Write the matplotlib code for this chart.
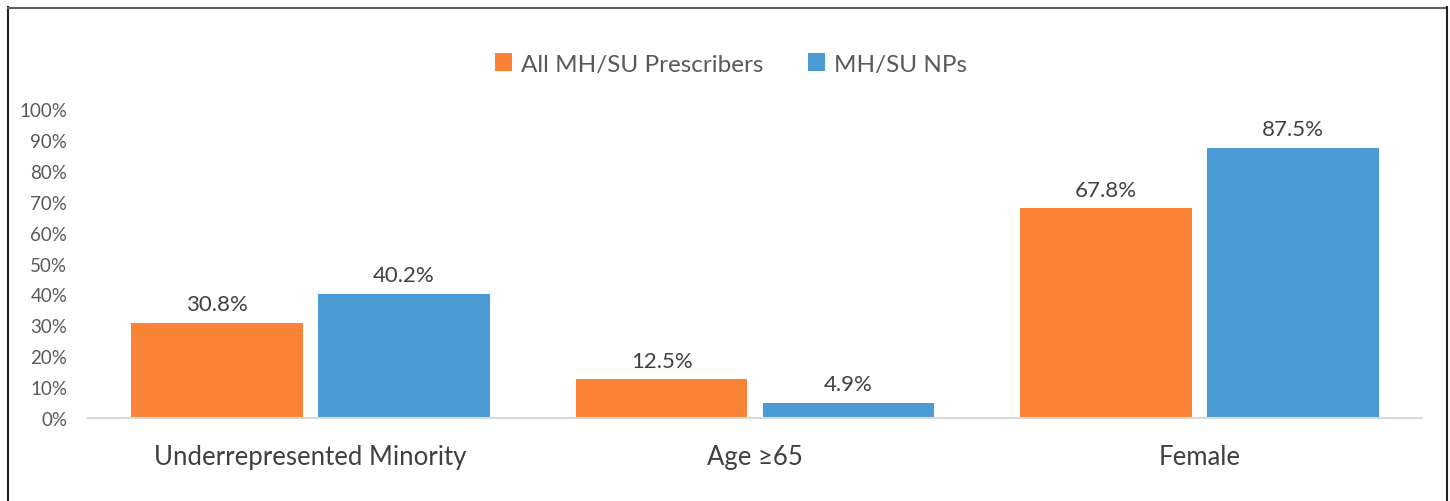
import matplotlib
matplotlib.use('Agg')
import matplotlib.pyplot as plt
from matplotlib.lines import Line2D
import numpy as np

plt.rcParams['font.family'] = ['Lato', 'DejaVu Sans']

categories = ['Underrepresented Minority', 'Age \u226565', 'Female']
all_prescribers = [30.8, 12.5, 67.8]
np_prescribers = [40.2, 4.9, 87.5]
series_names = ['All MH/SU Prescribers', 'MH/SU NPs']

orange = '#FB8335'
blue = '#4A9BD3'
grey = '#595959'

fig = plt.figure(figsize=(14.5, 5.02), dpi=100)
ax = fig.add_axes([88/1450, 83/502, 1334/1450, 309/502])

x = np.arange(len(categories))
w = 0.386
off = 0.21
b1 = ax.bar(x - off, all_prescribers, w, color=orange, label=series_names[0])
b2 = ax.bar(x + off, np_prescribers, w, color=blue, label=series_names[1])

for bars, vals in [(b1, all_prescribers), (b2, np_prescribers)]:
    for b, v in zip(bars, vals):
        ax.text(b.get_x() + b.get_width()/2, v + 2.8, '%.1f%%' % v,
                ha='center', va='bottom', fontsize=16, color='#404040')

ax.set_xlim(-0.5, 2.5)
ax.set_ylim(0, 100)
ax.set_yticks(range(0, 101, 10))
ax.set_yticklabels(['%d%%' % t for t in range(0, 101, 10)], fontsize=13.5, color=grey)
ax.set_xticks(x)
ax.set_xticklabels(categories, fontsize=18.5, color='#404040')
ax.tick_params(axis='both', length=0)
ax.tick_params(axis='x', pad=19)
ax.tick_params(axis='y', pad=15)
for s in ['top', 'right', 'left']:
    ax.spines[s].set_visible(False)
ax.spines['bottom'].set_color('#D9D9D9')
ax.spines['bottom'].set_linewidth(1.5)

fig.legend(handles=[b1, b2], labels=series_names, loc='center', bbox_to_anchor=(731/1450, 1 - 65/502),
           ncol=2, frameon=False, fontsize=17.5, handlelength=0.7, handleheight=0.7,
           handletextpad=0.4, columnspacing=1.8, labelcolor=grey)

# outer frame
fig.add_artist(Line2D([7.5/1450, 7.5/1450], [0, 1 - 8/502], transform=fig.transFigure, color='#202020', lw=1.5))
fig.add_artist(Line2D([7.5/1450, 1446.5/1450], [1 - 8.5/502, 1 - 8.5/502], transform=fig.transFigure, color='#606060', lw=1.5))
fig.add_artist(Line2D([1446.5/1450, 1446.5/1450], [0, 1 - 8/502], transform=fig.transFigure, color='#202020', lw=1.5))

fig.savefig('out.png', dpi=100)
